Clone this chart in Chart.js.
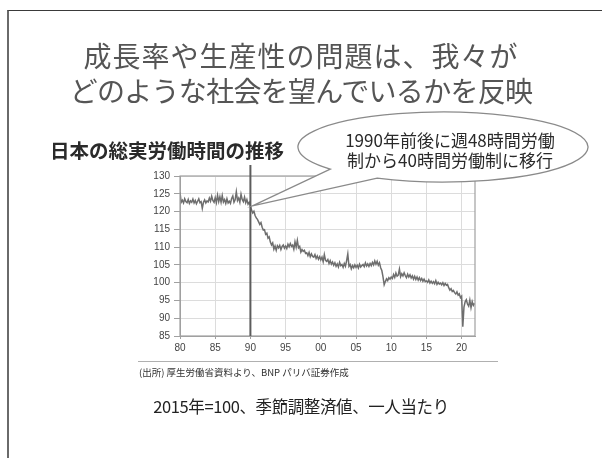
<!DOCTYPE html>
<html lang="ja">
<head>
<meta charset="utf-8">
<script src="https://cdn.jsdelivr.net/npm/chart.js@4.4.1/dist/chart.umd.min.js"></script>
<style>
  body { margin: 0; background: #fff; }
  #slide { position: relative; width: 602px; height: 458px; overflow: hidden; font-family: "Noto Sans CJK JP", sans-serif; }
  #frame { position: absolute; left: 7px; top: 10px; right: 0; bottom: 0; border-top: 1.5px solid #3a3a3a; border-left: 2px solid #6a6a6a; }
  canvas { position: absolute; left: 0; top: 0; }
  .txt { position: absolute; white-space: nowrap; line-height: 1; }
  .title { left: 0; width: 602px; text-align: center; font-size: 28px; color: #555; }
  #sub { left: 50px; top: 140px; font-size: 19.5px; font-weight: 700; color: #2a2a2a; }
  .note { left: 300px; width: 300px; text-align: center; font-size: 17px; color: #2a2a2a; }
  #source { left: 139px; top: 368px; font-size: 9.5px; color: #333; }
  #rule { position: absolute; left: 138px; top: 361px; width: 360px; height: 1px; background: #b0b0b0; }
  #basis { left: 0; width: 602px; top: 398px; text-align: center; font-size: 16.5px; color: #222; letter-spacing: -0.4px; }
</style>
</head>
<body>
<div id="slide">
  <div id="frame"></div>
  <canvas id="chart" width="602" height="458"></canvas>
  <div class="txt title" style="top:41px; letter-spacing:1px">成長率や生産性の問題は、我々が</div>
  <div class="txt title" style="top:76px; letter-spacing:-0.7px">どのような社会を望んでいるかを反映</div>
  <div class="txt" id="sub">日本の総実労働時間の推移</div>
  <div class="txt note" style="top:131px">1990年前後に週48時間労働</div>
  <div class="txt note" style="top:151px">制から40時間労働制に移行</div>
  <div id="rule"></div>
  <div class="txt" id="source">(出所) 厚生労働省資料より、BNP パリバ証券作成</div>
  <div class="txt" id="basis">2015年=100、季節調整済値、一人当たり</div>
</div>
<script>
// total hours worked per person, 2015=100, sampled every two months from Jan 1980
const startYear = 1980;
const perYear = 6;
const hours = [
  125.4, 122.6, 123.2, 122.4, 123.6, 122.8, // 1980
  122.5, 123.4, 122.3, 123.0, 122.6, 123.5,
  122.4, 123.1, 122.2, 122.9, 123.6, 122.5,
  122.8, 120.9, 122.6, 123.3, 122.4, 123.0,
  122.7, 123.8, 122.9, 124.3, 123.1, 122.6,
  123.9, 122.5, 124.6, 122.8, 124.2, 122.6, // 1985
  124.5, 122.7, 123.4, 122.3, 123.6, 122.4,
  122.9, 122.3, 123.7, 124.4, 122.6, 123.3,
  125.6, 123.1, 123.8, 122.6, 124.9, 123.4,
  122.8, 124.1, 122.5, 123.4, 122.1, 122.6,
  121.6, 120.4, 119.6, 120.1, 118.9, 118.2, // 1990
  117.8, 117.1, 116.4, 116.9, 115.6, 114.8,
  114.9, 113.6, 113.9, 112.5, 112.9, 111.4,
  110.6, 111.2, 109.4, 110.3, 109.1, 110.4,
  109.8, 110.5, 109.3, 110.2, 110.6, 109.7,
  110.3, 109.6, 110.8, 110.1, 111.0, 110.2, // 1995
  110.6, 109.4, 111.5, 110.0, 111.9, 109.8,
  110.2, 108.6, 109.3, 108.8, 109.1, 108.2,
  108.4, 107.6, 108.5, 107.3, 108.1, 107.4,
  107.2, 107.9, 106.8, 107.5, 106.6, 107.3,
  106.4, 107.2, 105.9, 107.9, 106.3, 106.0, // 2000
  106.5, 105.4, 106.2, 105.2, 105.8, 104.9,
  105.6, 104.6, 105.3, 104.4, 105.7, 104.8,
  105.1, 104.3, 105.4, 104.6, 106.2, 108.1,
  104.6, 105.1, 103.9, 104.8, 104.2, 105.0,
  104.3, 104.9, 104.1, 105.2, 104.4, 104.8, // 2005
  105.1, 104.5, 105.6, 104.7, 105.3, 104.6,
  105.4, 104.8, 105.7, 105.0, 106.1, 105.2,
  106.0, 104.9, 105.6, 104.2, 103.4, 101.6,
  99.4, 100.3, 101.1, 100.6, 101.4, 101.0,
  101.6, 101.2, 102.3, 101.5, 102.7, 101.8, // 2010
  102.1, 103.8, 101.7, 102.5, 101.9, 102.8,
  102.0, 101.4, 102.4, 101.6, 102.2, 101.3,
  101.9, 101.0, 101.8, 100.9, 101.6, 100.7,
  101.4, 100.6, 101.2, 100.4, 101.0, 100.3,
  100.5, 100.1, 100.8, 99.9, 100.4, 99.8,   // 2015
  100.3, 99.7, 100.6, 99.5, 100.1, 99.6,
  99.9, 99.4, 100.0, 99.2, 99.8, 99.3,
  99.5, 98.6, 97.9, 98.3, 97.5, 97.8,
  97.2, 96.8, 97.4, 96.5, 96.9, 95.8,
  96.2, 87.6, 93.1, 94.6, 95.2, 94.0,       // 2020
  93.4, 95.1, 93.0, 94.7, 93.6, 94.2
];
const xTickYears = [1980, 1985, 1990, 1995, 2000, 2005, 2010, 2015, 2020];
const xTickLabels = ['80', '85', '90', '95', '00', '05', '10', '15', '20'];
const yTicks = [85, 90, 95, 100, 105, 110, 115, 120, 125, 130];
const shiftYear = 1990; // move from 48h to 40h week

const points = hours.map((v, i) => ({ x: startYear + i / perYear, y: v }));
const shiftValue = hours[(shiftYear - startYear) * perYear];

// plot frame, 1990 marker line and the speech bubble
const overlay = {
  id: 'overlay',
  afterDatasetsDraw(chart) {
    const { ctx, chartArea: a, scales: { x, y } } = chart;
    ctx.save();
    ctx.strokeStyle = '#a0a0a0';
    ctx.lineWidth = 1.2;
    ctx.strokeRect(a.left, a.top, a.right - a.left, a.bottom - a.top);

    const mx = x.getPixelForValue(shiftYear);
    ctx.strokeStyle = '#5c5c5c';
    ctx.lineWidth = 2;
    ctx.beginPath();
    ctx.moveTo(mx, a.top - 11);
    ctx.lineTo(mx, a.bottom);
    ctx.stroke();

    const cx = 443, cy = 147, rx = 145, ry = 35;
    const t1 = 117 * Math.PI / 180, t2 = 141 * Math.PI / 180;
    ctx.beginPath();
    ctx.ellipse(cx, cy, rx, ry, 0, t1, t2, true);
    ctx.lineTo(mx + 2, y.getPixelForValue(shiftValue));
    ctx.closePath();
    ctx.fillStyle = '#fff';
    ctx.fill();
    ctx.strokeStyle = '#8a8a8a';
    ctx.lineWidth = 1.3;
    ctx.stroke();
    ctx.restore();
  }
};

new Chart(document.getElementById('chart'), {
  type: 'line',
  data: {
    datasets: [{
      data: points,
      borderColor: '#6e6e6e',
      borderWidth: 1.5,
      pointRadius: 0,
      tension: 0
    }]
  },
  options: {
    responsive: false,
    animation: false,
    layout: { padding: { left: 130, top: 176, right: 127, bottom: 98 } },
    plugins: { legend: { display: false }, tooltip: { enabled: false } },
    scales: {
      x: {
        type: 'linear',
        min: startYear,
        max: 2021.9,
        afterBuildTicks: (s) => { s.ticks = xTickYears.map(v => ({ value: v })); },
        afterFit: (s) => { s.height = 24; },
        ticks: {
          callback: (v) => xTickLabels[xTickYears.indexOf(v)],
          font: { family: 'Liberation Sans', size: 10 },
          color: '#444',
          padding: 3,
          maxRotation: 0
        },
        grid: { color: '#dcdcdc', tickColor: '#a0a0a0', tickLength: 3 },
        border: { color: '#a0a0a0' }
      },
      y: {
        min: 85,
        max: 130,
        afterBuildTicks: (s) => { s.ticks = yTicks.map(v => ({ value: v })); },
        afterFit: (s) => { s.width = 50; },
        ticks: {
          font: { family: 'Liberation Sans', size: 10 },
          color: '#444',
          padding: 4
        },
        grid: { color: '#dcdcdc', tickColor: '#a0a0a0', tickLength: 6 },
        border: { color: '#a0a0a0' }
      }
    }
  },
  plugins: [overlay]
});
</script>
</body>
</html>
